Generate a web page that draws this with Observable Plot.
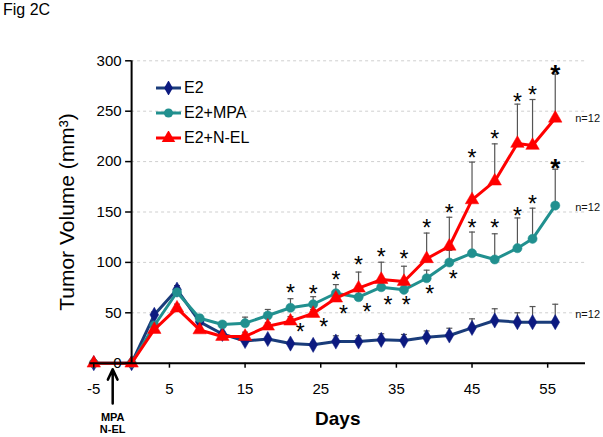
<!DOCTYPE html>
<html><head><meta charset="utf-8">
<script src="https://cdn.jsdelivr.net/npm/d3@7"></script>
<script src="https://cdn.jsdelivr.net/npm/@observablehq/plot@0.6"></script>
<style>
body{margin:0;background:#fff;font-family:"Liberation Sans",Arial,sans-serif;}
#wrap{position:relative;width:603px;height:437px;overflow:hidden;background:#fff}
#title{position:absolute;left:3px;top:1px;font-size:16px;color:#000;line-height:18px}
.leg{position:absolute;left:156px;display:flex;align-items:center;font-size:16px;height:20px;color:#000}
.leg span{margin-left:3px}
svg.plot{position:absolute;left:0;top:0}
</style></head><body>
<div id="wrap"><div id="title">Fig 2C</div></div>
<script>
// ---- data ----
const days = [-5, 0, 3, 6, 9, 12, 15, 18, 21, 24, 27, 30, 33, 36, 39, 42, 45, 48, 51, 53, 56];
const e2     = [0, 0, 48, 73, 41, 29, 22, 24, 19.5, 18.2, 21.5, 21.5, 23.2, 22.5, 25.8, 27.5, 35, 42.4, 40.7, 40.7, 40.7];
const e2Sem  = [0, 0, 3, 4, 3, 2, 2, 2, 2, 2.3, 5.7, 5.7, 6, 6, 6.2, 7.2, 9, 11.6, 9.3, 15.5, 17.8];
const mpa    = [0, 0, 37.4, 70.4, 44.6, 38.4, 39.7, 47.3, 55, 58.5, 69.4, 65.5, 75.4, 72.8, 84.3, 99.9, 109.1, 102.9, 114.1, 123.4, 156.4];
const mpaSem = [0, 0, 3, 4, 3, 3, 6, 6, 9, 7.5, 8.6, 6, 5, 5, 8, 12, 21, 25.5, 30, 30.4, 36];
const nel    = [0, 0, 33.4, 54.6, 33, 26.5, 26.5, 36.7, 41.7, 49.3, 64.5, 74.4, 83, 81, 103.6, 116, 162, 180.6, 218, 216, 243];
const nelSem = [0, 0, 3, 4, 2.5, 2.5, 4.3, 3.5, 4.5, 4, 5.5, 16, 17.2, 15.2, 25.5, 28.8, 37.5, 37, 39, 45.6, 43.7];
const seriesNames = ["E2", "E2+MPA", "E2+N-EL"];

// significance asterisks (day, volume)
const starDay = [21, 24, 27, 30, 33, 36, 39, 42, 45, 45, 48, 48, 51, 51, 53, 53, 22.3, 25.4, 28, 31.1, 33.9, 36.3, 39.4, 42.5];
const starVal = [74.8, 74.4, 87.6, 102.5, 110.2, 108.5, 139.9, 154.8, 139, 209.3, 139, 228.2, 151.5, 264.6, 163.1, 271.3, 35.9, 41.7, 54, 56.3, 62.9, 62.9, 74.4, 88.5];
const bigStarDay = [56, 56];
const bigStarVal = [200.1, 293.6];

// n labels
const nLabelText = ["n=12", "n=12", "n=12"];
const nLabelVal = [242.4, 154.8, 48];
const nLabelDay = 56;

// treatment start annotation
const treatDay = -2.5;
const treatArrow = {from: -40, to: -6};
const treatText = ["MPA", "N-EL"];
const treatTextVal = [-53.5, -66];

const xTicks = [-5, 5, 15, 25, 35, 45, 55];
const yTicks = [0, 50, 100, 150, 200, 250, 300];
const gridTicks = [50, 100, 150, 200, 250, 300];

// ---- styles ----
const colors = {"E2": "#1a3c7a", "E2+MPA": "#21908f", "E2+N-EL": "#ff0000"};
const markColors = {"E2": "#0c1a80", "E2+MPA": "#21908f", "E2+N-EL": "#ff0000"};
const symbols = {"E2": "diamond", "E2+MPA": "circle", "E2+N-EL": "triangle"};
const radii = {"E2": 4.6, "E2+MPA": 4.6, "E2+N-EL": 5};

const valueArrays = [e2, mpa, nel];
const semArrays = [e2Sem, mpaSem, nelSem];
const rows = seriesNames.flatMap((s, i) => days.map((d, j) => ({series: s, day: d, value: valueArrays[i][j], top: valueArrays[i][j] + semArrays[i][j], sem: semArrays[i][j]})));
const errRows = rows.filter(r => r.sem > 0);
const stars = starDay.map((d, i) => ({day: d, value: starVal[i]}));
const bigStars = bigStarDay.map((d, i) => ({day: d, value: bigStarVal[i]}));
const nLabels = nLabelText.map((t, i) => ({text: t, day: nLabelDay, value: nLabelVal[i]}));
const treatLabels = treatText.map((t, i) => ({text: t, day: treatDay, value: treatTextVal[i]}));

const W = 603, H = 437, ML = 89.5, MR = 18, MT = 60.3, MB = 74.3;
const xDomain = [-5.5, 60];
const yAxisDx = (0 - xDomain[0]) / (xDomain[1] - xDomain[0]) * (W - ML - MR);
const capSymbol = {draw(ctx) { ctx.moveTo(-3, 0); ctx.lineTo(3, 0); }};
const font = "'Liberation Sans', Arial, sans-serif";

const marks = [
  Plot.ruleY(gridTicks, {y: d => d, x1: 0, x2: 60, stroke: "#cfcfcf", strokeDasharray: "3,3", strokeWidth: 1}),
  Plot.ruleX(errRows, {x: "day", y1: "value", y2: "top", stroke: "#555", strokeWidth: 1.2}),
  Plot.dot(errRows, {x: "day", y: "top", symbol: capSymbol, stroke: "#555", strokeWidth: 1.2, r: 3}),
];
for (const s of seriesNames) {
  const data = rows.filter(r => r.series === s);
  marks.push(Plot.line(data, {x: "day", y: "value", stroke: colors[s], strokeWidth: 3}));
  marks.push(Plot.dot(data, {x: "day", y: "value", symbol: symbols[s], fill: markColors[s], stroke: markColors[s], strokeWidth: 0.5, r: radii[s]}));
}
marks.push(
  Plot.ruleY([0], {stroke: "#000", strokeWidth: 2}),
  Plot.ruleX([0], {y1: 0, y2: 300, stroke: "#000", strokeWidth: 2}),
  Plot.axisX({ticks: xTicks, tickSize: 5, tickPadding: 15, fontSize: 15, label: null, tickFormat: d => String(d), strokeWidth: 1.5}),
  Plot.axisY({ticks: yTicks, tickSize: 6, tickPadding: 4, fontSize: 15, label: null, dx: yAxisDx, tickFormat: d => String(d), strokeWidth: 1.5}),
  Plot.text(stars, {x: "day", y: "value", text: () => "*", fontSize: 23, dy: 6, fill: "#000"}),
  Plot.text(bigStars, {x: "day", y: "value", text: () => "*", fontSize: 26, fontWeight: "bold", dy: 7, fill: "#000"}),
  Plot.text(nLabels, {x: "day", y: "value", text: "text", textAnchor: "start", dx: 20, fontSize: 11, fill: "#111"}),
  Plot.arrow([0], {x1: treatDay, x2: treatDay, y1: treatArrow.from, y2: treatArrow.to, stroke: "#000", strokeWidth: 2.5, headLength: 9, headAngle: 50}),
  Plot.text(treatLabels, {x: "day", y: "value", text: "text", fontSize: 11, fontWeight: "bold", fill: "#000"}),
  Plot.text(["Tumor Volume (mm³)"], {frameAnchor: "left", textAnchor: "middle", rotate: -90, dx: -23, fontSize: 21, fill: "#000"}),
  Plot.text(["Days"], {frameAnchor: "bottom", textAnchor: "middle", dy: 62, fontSize: 19, fontWeight: "bold", fill: "#000"})
);

const chart = Plot.plot({
  width: W, height: H,
  marginLeft: ML, marginRight: MR, marginTop: MT, marginBottom: MB,
  x: {domain: xDomain},
  y: {domain: [0, 300]},
  clip: false,
  style: {fontFamily: font, background: "white", overflow: "visible", color: "#000"},
  marks
});
chart.classList.add("plot");
const wrap = document.getElementById("wrap");
wrap.appendChild(chart);
wrap.appendChild(document.getElementById("title"));

// legend
const legendCenters = [88.3, 112.7, 138.3];
seriesNames.forEach((s, i) => {
  const row = document.createElement("div");
  row.className = "leg";
  row.style.top = (legendCenters[i] - 10) + "px";
  const sym = d3.symbol().type(symbols[s] === "diamond" ? d3.symbolDiamond : symbols[s] === "circle" ? d3.symbolCircle : d3.symbolTriangle).size(radii[s] * radii[s] * Math.PI)();
  row.innerHTML = `<svg width="25" height="14" viewBox="0 0 25 14"><line x1="0" x2="25" y1="7" y2="7" stroke="${colors[s]}" stroke-width="3"/><path d="${sym}" transform="translate(12.5,7)" fill="${markColors[s]}"/></svg><span>${s}</span>`;
  wrap.appendChild(row);
});
</script>
</body></html>
